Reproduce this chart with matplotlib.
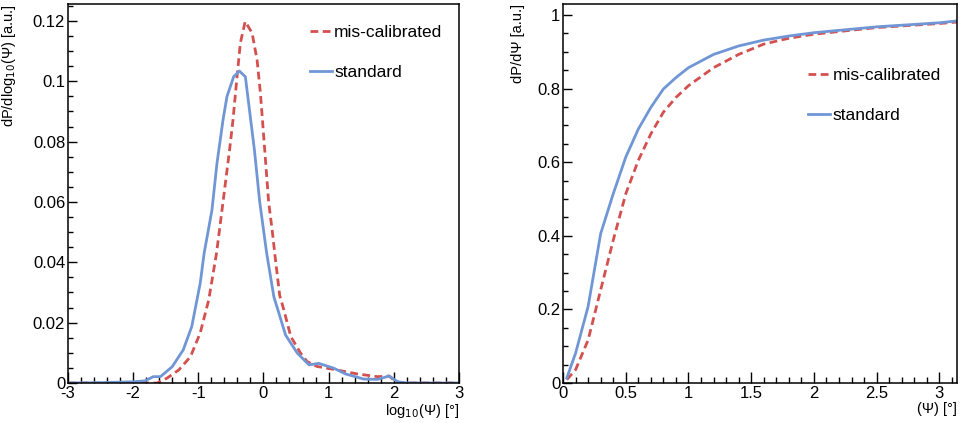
import matplotlib
matplotlib.use("Agg")
import matplotlib.pyplot as plt
from matplotlib.ticker import MultipleLocator

plt.rcParams["font.family"] = ["Liberation Sans", "DejaVu Sans"]
plt.rcParams["axes.unicode_minus"] = False

RED = "#d4504f"
BLUE = "#7096d6"

# left panel: dP/dlog10(Psi)
logpsi_std = [-3.0, -2.5, -2.0, -1.82, -1.69, -1.58, -1.4, -1.23, -1.1, -0.97, -0.91,
              -0.79, -0.713, -0.62, -0.56, -0.457, -0.37, -0.277, -0.2, -0.138, -0.057,
              0.05, 0.16, 0.34, 0.52, 0.7, 0.85, 1.08, 1.26, 1.54, 1.75, 1.93, 2.06,
              2.2, 3.0]
dens_std = [0.0, 0.0001, 0.0004, 0.0007, 0.0021, 0.0021, 0.0054, 0.011, 0.0187, 0.0331,
            0.043, 0.0573, 0.0728, 0.0872, 0.0949, 0.1015, 0.1034, 0.1015, 0.088,
            0.0772, 0.060, 0.043, 0.0286, 0.0159, 0.0099, 0.006, 0.0065, 0.0049,
            0.003, 0.0013, 0.0012, 0.0023, 0.0004, 0.0, 0.0]

logpsi_mis = [-3.0, -2.0, -1.63, -1.48, -1.3, -1.12, -0.97, -0.84, -0.72, -0.62, -0.52,
              -0.467, -0.405, -0.354, -0.28, -0.174, -0.097, -0.046, 0.02, 0.08,
              0.134, 0.185, 0.25, 0.31, 0.42, 0.57, 0.67, 0.82, 1.13, 1.44, 1.75, 1.93,
              2.0, 2.1, 3.0]
dens_mis = [0.0, 0.0, 0.0, 0.0016, 0.0043, 0.0087, 0.0166, 0.0275, 0.043, 0.060,
            0.0772, 0.0872, 0.1015, 0.1127, 0.1198, 0.116, 0.107, 0.096, 0.0772, 0.060,
            0.0507, 0.0408, 0.029, 0.0245, 0.0154, 0.0099, 0.0071, 0.0055, 0.0043,
            0.003, 0.0021, 0.0023, 0.001, 0.0, 0.0]

# right panel: cumulative in Psi
psi_std = [0.03, 0.1, 0.2, 0.3, 0.4, 0.5, 0.6, 0.7, 0.8, 0.9, 1.0, 1.2, 1.4, 1.6,
           1.8, 2.0, 2.5, 3.0, 3.14]
cum_std = [0.0135, 0.081, 0.208, 0.406, 0.514, 0.614, 0.690, 0.749, 0.799, 0.830,
           0.857, 0.893, 0.916, 0.932, 0.943, 0.952, 0.968, 0.979, 0.984]
psi_mis = [0.03, 0.1, 0.2, 0.3, 0.4, 0.5, 0.6, 0.7, 0.8, 0.9, 1.0, 1.2, 1.4, 1.6,
           1.8, 2.0, 2.5, 3.0, 3.14]
cum_mis = [0.009, 0.036, 0.117, 0.253, 0.388, 0.514, 0.605, 0.677, 0.736, 0.776,
           0.808, 0.857, 0.893, 0.921, 0.937, 0.948, 0.966, 0.977, 0.981]


def style_axes(ax, xmaj, xmin, ymaj, ymin):
    for s in ax.spines.values():
        s.set_linewidth(1.1)
    ax.xaxis.set_major_locator(MultipleLocator(xmaj))
    ax.xaxis.set_minor_locator(MultipleLocator(xmin))
    ax.yaxis.set_major_locator(MultipleLocator(ymaj))
    ax.yaxis.set_minor_locator(MultipleLocator(ymin))
    ax.tick_params(axis="both", which="both", direction="in", top=False, right=False,
                   labelsize=12, width=1.0)
    ax.tick_params(axis="x", which="major", length=8, pad=2)
    ax.tick_params(axis="x", which="minor", length=4.5)
    ax.tick_params(axis="y", which="major", length=6.5, pad=2)
    ax.tick_params(axis="y", which="minor", length=3.5)
    ax.xaxis.set_major_formatter(plt.FuncFormatter(lambda v, p: f"{v:g}"))
    ax.yaxis.set_major_formatter(plt.FuncFormatter(lambda v, p: f"{v:g}"))


def add_legend(ax, x, y):
    ax.legend(loc="upper left", bbox_to_anchor=(x, y), frameon=False, fontsize=12.5,
              handlelength=1.25, handletextpad=0.15, labelspacing=1.45,
              borderpad=0, borderaxespad=0)


fig = plt.figure(figsize=(9.6, 4.23), dpi=100)

ax1 = fig.add_axes([0.0708, 0.0946, 0.4072, 0.8959])
ax1.plot(logpsi_mis, dens_mis, color=RED, lw=2.0, ls=(0, (2.8, 1.6)), label="mis-calibrated")
ax1.plot(logpsi_std, dens_std, color=BLUE, lw=2.0, label="standard")
ax1.set_xlim(-3, 3)
ax1.set_ylim(0, 0.1256)
style_axes(ax1, 1, 0.2, 0.02, 0.005)
ax1.set_ylabel("dP/dlog$_{10}$(Ψ) [a.u.]", fontsize=10.5, loc="top")
ax1.yaxis.set_label_coords(-0.128, 1.0)
ax1.set_xlabel("log$_{10}$(Ψ) [°]", fontsize=10.5, loc="right", labelpad=1)
add_legend(ax1, 0.619, 0.945)

ax2 = fig.add_axes([0.5865, 0.0946, 0.4105, 0.8959])
ax2.plot(psi_mis, cum_mis, color=RED, lw=2.0, ls=(0, (2.8, 1.6)), label="mis-calibrated")
ax2.plot(psi_std, cum_std, color=BLUE, lw=2.0, label="standard")
ax2.set_xlim(0, 3.1416)
ax2.set_ylim(0, 1.03)
style_axes(ax2, 0.5, 0.1, 0.2, 0.05)
ax2.set_ylabel("dP/dΨ [a.u.]", fontsize=10.5, loc="top")
ax2.yaxis.set_label_coords(-0.096, 1.0)
ax2.set_xlabel("(Ψ) [°]", fontsize=10.5, loc="right", labelpad=1)
add_legend(ax2, 0.622, 0.832)

fig.savefig("out.png", dpi=100)
